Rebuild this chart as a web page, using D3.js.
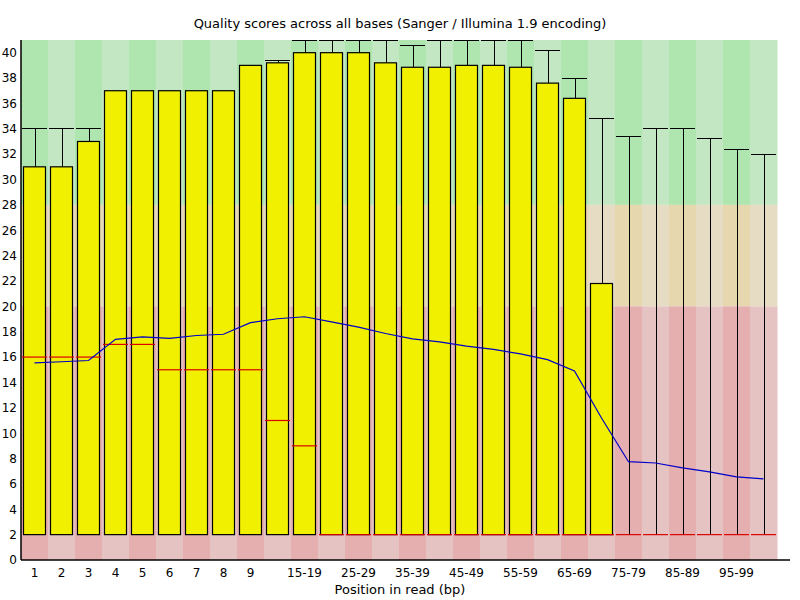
<!DOCTYPE html>
<html>
<head>
<meta charset="utf-8">
<script src="https://cdn.jsdelivr.net/npm/d3@7"></script>
<style>
  body { margin: 0; background: #fff; }
  text { font-family: "DejaVu Sans", sans-serif; fill: #000; }
</style>
</head>
<body>
<div id="chart"></div>
<script>
var width = 800,
    height = 600;

// positions in read
var positions = ["1","2","3","4","5","6","7","8","9","10-14","15-19","20-24","25-29",
  "30-34","35-39","40-44","45-49","50-54","55-59","60-64","65-69","70-74","75-79",
  "80-84","85-89","90-94","95-99","100-101"];

// box tops (upper quartile), box bottoms (lower quartile)
var upperQuartile = [31,31,33,37,37,37,37,37,39,39.2,40,40,40,39.2,38.85,38.85,39,39,38.85,37.6,36.4,21.8,2,2,2,2,2,2];
var lowerQuartile = [2,2,2,2,2,2,2,2,2,2,2,2,2,2,2,2,2,2,2,2,2,2,2,2,2,2,2,2];
// whiskers: 90th and 10th percentile
var upperWhisker = [34,34,34,37,37,37,37,37,39,39.4,41,41,41,41,40.6,41,41,41,41,40.2,38,34.8,33.4,34,34,33.2,32.35,31.95];
var lowerWhisker = [2,2,2,2,2,2,2,2,2,2,2,2,2,2,2,2,2,2,2,2,2,2,2,2,2,2,2,2];
var medians = [16,16,16,17,17,15,15,15,15,11,9,2,2,2,2,2,2,2,2,2,2,2,2,2,2,2,2,2];
var means = [15.55,15.63,15.73,17.4,17.6,17.47,17.7,17.8,18.72,19.02,19.18,18.78,18.36,17.86,17.44,
  17.2,16.86,16.6,16.25,15.8,14.9,11.2,7.75,7.65,7.26,6.95,6.55,6.39];

var yTicks = d3.range(0, 41, 2);

// quality bands: [from, to, light, dark]
var bands = [
  [28, 41, "rgb(195,230,195)", "rgb(175,230,175)"],
  [20, 28, "rgb(230,220,195)", "rgb(230,215,175)"],
  [0, 20, "rgb(230,195,195)", "rgb(230,175,175)"]
];

var margin = {left: 21, right: 23, top: 40, bottom: 40};

var svg = d3.select("#chart").append("svg")
    .attr("width", width)
    .attr("height", height);

var x = d3.scaleBand()
    .domain(positions)
    .range([margin.left, width - margin.right]);

var y = d3.scaleLinear()
    .domain([0, 41])
    .range([height - margin.bottom, margin.top]);

var data = positions.map(function(p, i) {
  return {pos: p, i: i, q3: upperQuartile[i], q1: lowerQuartile[i],
          hi: upperWhisker[i], lo: lowerWhisker[i], med: medians[i], mean: means[i]};
});

// background stripes
bands.forEach(function(b) {
  svg.append("g").selectAll("rect")
      .data(positions)
    .enter().append("rect")
      .attr("x", function(d) { return x(d); })
      .attr("width", x.bandwidth() + 0.5)
      .attr("y", y(b[1]))
      .attr("height", y(b[0]) - y(b[1]))
      .attr("fill", function(d, i) { return i % 2 == 0 ? b[3] : b[2]; });
});

var bw = x.bandwidth();

// whiskers
var wg = svg.append("g").attr("stroke", "#000").attr("stroke-width", 1).attr("shape-rendering", "crispEdges");
data.forEach(function(d) {
  var cx = Math.round(x(d.pos) + bw / 2) + 0.5;
  if (d.hi > d.q3) {
    wg.append("line").attr("x1", cx).attr("x2", cx).attr("y1", y(d.hi)).attr("y2", y(d.q3));
    wg.append("line").attr("x1", x(d.pos) + 1).attr("x2", x(d.pos) + bw - 1)
      .attr("y1", y(d.hi)).attr("y2", y(d.hi));
  }
  if (d.lo < d.q1) {
    wg.append("line").attr("x1", cx).attr("x2", cx).attr("y1", y(d.q1)).attr("y2", y(d.lo));
  }
});

// boxes
svg.append("g").selectAll("rect")
    .data(data.filter(function(d) { return d.q3 > d.q1; }))
  .enter().append("rect")
    .attr("x", function(d) { return x(d.pos) + 2.5; })
    .attr("width", bw - 5)
    .attr("y", function(d) { return y(d.q3); })
    .attr("height", function(d) { return y(d.q1) - y(d.q3); })
    .attr("fill", "rgb(240,240,0)")
    .attr("stroke", "#000")
    .attr("stroke-width", 1.2);

// medians
svg.append("g").selectAll("line")
    .data(data)
  .enter().append("line")
    .attr("x1", function(d) { return x(d.pos) + 1; })
    .attr("x2", function(d) { return x(d.pos) + bw - 1; })
    .attr("y1", function(d) { return y(d.med); })
    .attr("y2", function(d) { return y(d.med); })
    .attr("stroke", "rgb(220,0,0)")
    .attr("stroke-width", 1.2);

// mean line
var line = d3.line()
    .x(function(d) { return x(d.pos) + bw / 2; })
    .y(function(d) { return y(d.mean); });

svg.append("path")
    .datum(data)
    .attr("d", line)
    .attr("fill", "none")
    .attr("stroke", "rgb(0,0,200)")
    .attr("stroke-width", 1.2);

// y axis
var yAxis = svg.append("g")
    .attr("transform", "translate(" + margin.left + ",0)")
    .call(d3.axisLeft(y).tickValues(yTicks).tickSize(0).tickPadding(4));
yAxis.select(".domain").attr("stroke", "#000").attr("stroke-width", 1.5)
    .attr("d", "M0," + margin.top + "V" + y(0));
yAxis.selectAll("text").style("font-size", "12px").style("font-family", "DejaVu Sans");

// x axis
var xAxis = svg.append("g")
    .attr("transform", "translate(0," + y(0) + ")")
    .call(d3.axisBottom(x).tickSize(0).tickPadding(8)
      .tickFormat(function(d, i) { return (i < 9 || (i % 2 == 0 && i < positions.length - 1)) ? d : ""; }));
xAxis.select(".domain").attr("stroke", "#000").attr("stroke-width", 1.5)
    .attr("d", "M" + margin.left + ",0H790");
xAxis.selectAll("text").style("font-size", "12px").style("font-family", "DejaVu Sans");

// titles
svg.append("text")
    .attr("x", 400)
    .attr("y", 28)
    .attr("text-anchor", "middle")
    .style("font-size", "13px")
    .text("Quality scores across all bases (Sanger / Illumina 1.9 encoding)");

svg.append("text")
    .attr("x", 400)
    .attr("y", 594)
    .attr("text-anchor", "middle")
    .style("font-size", "13px")
    .text("Position in read (bp)");
</script>
</body>
</html>
